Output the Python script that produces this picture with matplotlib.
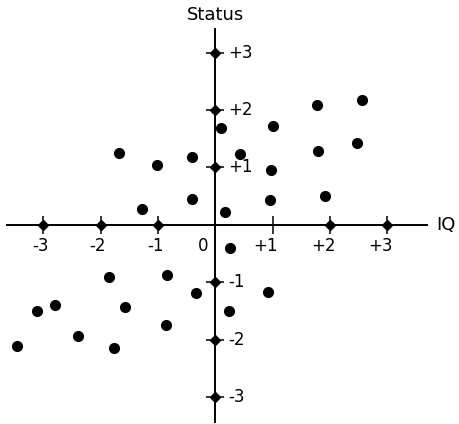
import matplotlib
matplotlib.use("Agg")
import matplotlib.pyplot as plt

# IQ / status pairs, one per person
iq = [-1.67, -1.01, -0.40, 0.10, -0.40, -1.27, 0.17, 0.43, 1.00, 1.77,
      2.56, 1.79, 2.47, 0.97, 0.96, 1.92, -1.85, -0.85, -0.33, -3.10,
      -2.79, -1.57, -0.86, -2.40, -3.45, -1.76, 0.26, 0.92, 0.24]
status = [1.25, 1.05, 1.18, 1.69, 0.45, 0.28, 0.23, 1.23, 1.72, 2.09,
          2.17, 1.29, 1.43, 0.95, 0.43, 0.51, -0.91, -0.87, -1.18, -1.49,
          -1.39, -1.42, -1.75, -1.93, -2.11, -2.14, -0.41, -1.16, -1.49]

x_ticks = [-3, -2, -1, 1, 2, 3]
x_tick_labels = ["-3", "-2", "-1", "+1", "+2", "+3"]
y_ticks = [-3, -2, -1, 1, 2, 3]
y_tick_labels = ["-3", "-2", "-1", "+1", "+2", "+3"]
# no diamond on the +1 IQ tick
x_diamonds = [-3, -2, -1, 2, 3]
y_diamonds = [-3, -2, -1, 1, 2, 3]

plt.rcParams["font.family"] = "DejaVu Sans"

fig = plt.figure(figsize=(4.59, 4.24), dpi=100)
ax = fig.add_axes([7 / 459, 2 / 424, 420 / 459, 393 / 424])
ax.set_xlim(-3.63, 3.69)
ax.set_ylim(-3.43, 3.41)

for side in ("top", "right"):
    ax.spines[side].set_visible(False)
for side in ("left", "bottom"):
    ax.spines[side].set_position(("data", 0))
    ax.spines[side].set_linewidth(1.4)

ax.set_xticks(x_ticks)
ax.set_yticks(y_ticks)
ax.tick_params(direction="inout", length=13, width=1.1,
               labelbottom=False, labelleft=False)

ax.plot(x_diamonds, [0] * len(x_diamonds), "D", ms=5.5, color="k",
        clip_on=False, zorder=3)
ax.plot([0] * len(y_diamonds), y_diamonds, "D", ms=5.5, color="k",
        clip_on=False, zorder=3)

for x, lab in zip(x_ticks, x_tick_labels):
    ax.annotate(lab, (x, 0), xytext=(4.0, -15), textcoords="offset points",
                ha="right", va="center", fontsize=12)
ax.annotate("0", (0, 0), xytext=(-8.6, -15), textcoords="offset points",
            ha="center", va="center", fontsize=12)
for y, lab in zip(y_ticks, y_tick_labels):
    ax.annotate(lab, (0, y), xytext=(9.4, 0), textcoords="offset points",
                ha="left", va="center", fontsize=12)

ax.annotate("Status", xy=(0, 1), xycoords=("data", "axes fraction"),
            xytext=(0, 10.4), textcoords="offset points",
            ha="center", va="center", fontsize=13, annotation_clip=False)
ax.annotate("IQ", xy=(1, 0), xycoords=("axes fraction", "data"),
            xytext=(6.5, 0), textcoords="offset points",
            ha="left", va="center", fontsize=13, annotation_clip=False)

ax.plot(iq, status, "o", ms=7, color="k", zorder=4)

fig.savefig("out.png", dpi=100)
